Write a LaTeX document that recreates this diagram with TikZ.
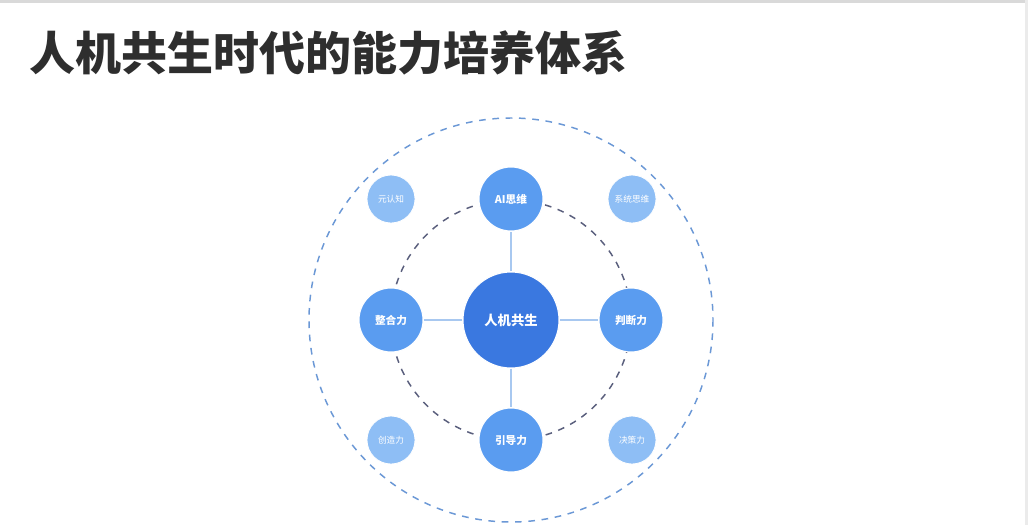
\documentclass[tikz,border=0pt]{standalone}
\usepackage{fontspec}
\usepackage{tikz}
\usetikzlibrary{positioning, calc}
\newfontfamily\cjk{Noto Sans CJK SC}
\definecolor{hubblue}{HTML}{3A78E0}
\definecolor{ringblue}{HTML}{5A9CF0}
\definecolor{cornerblue}{HTML}{8EBEF5}
\definecolor{linkblue}{HTML}{A8C8F0}
\definecolor{innerdash}{HTML}{5A5F7D}
\definecolor{outerdash}{HTML}{6B98D6}
\tikzset{%
   % the big node in the middle
   hub/.style={
      circle,
      fill=hubblue,
      draw=white,
      line width=.8pt,
      minimum size=72pt,
      inner sep=0pt,
      text=white,
      font=\cjk\bfseries\fontsize{10}{12}\selectfont
   },
   ability/.style={
      circle,
      fill=ringblue,
      draw=white,
      line width=.8pt,
      minimum size=48pt,
      inner sep=0pt,
      text=white,
      font=\cjk\bfseries\fontsize{8}{10}\selectfont
   },
   corner/.style={
      circle,
      fill=cornerblue,
      draw=white,
      line width=.6pt,
      minimum size=36pt,
      inner sep=0pt,
      text=white,
      font=\cjk\fontsize{6.5}{8}\selectfont
   },
   link/.style={
      draw=linkblue,
      line width=1pt
   },
   ring/.style={
      dashed,
      line width=1.1pt,
      dash pattern=on 5pt off 5pt
   },
}

\begin{document}
\begin{tikzpicture}[x=.75pt, y=-.75pt]
  \useasboundingbox (0,0) rectangle (1028,525);
  \fill[white] (0,0) rectangle (1028,525);
  \fill[black!15] (0,0) rectangle (1028,3);
  \fill[black!8] (1025,0) rectangle (1028,525);
  \node[anchor=west, font=\cjk\bfseries\fontsize{34.5}{40}\selectfont, text=black!82, inner sep=0pt]
     (title) at (29,53) {人机共生时代的能力培养体系};

  \coordinate (o) at (511,320);
  \draw[ring, draw=outerdash] (o) circle[radius=202];
  \draw[ring, draw=innerdash] (o) circle[radius=120];

  \node[hub]    (hm) at (o)         {人机共生};
  \node[ability] (ai) at (511,199)  {AI思维};
  \node[ability] (zh) at (391,320)  {整合力};
  \node[ability] (pd) at (631,320)  {判断力};
  \node[ability] (yd) at (511,440)  {引导力};
  \node[corner] (yr) at (391,199)   {元认知};
  \node[corner] (xt) at (632,199)   {系统思维};
  \node[corner] (cz) at (391,440)   {创造力};
  \node[corner] (jc) at (632,440)   {决策力};

  \draw[link] (hm) -- (ai)  (hm) -- (zh)  (hm) -- (pd)  (hm) -- (yd);
\end{tikzpicture}
\end{document}
